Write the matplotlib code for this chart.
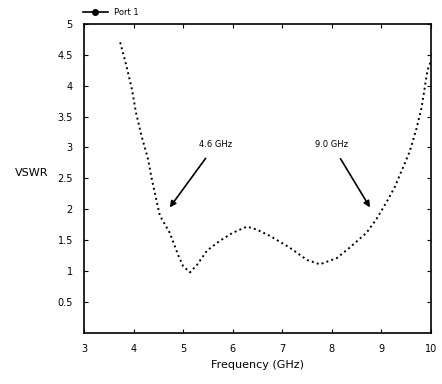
import matplotlib.pyplot as plt

# 판독한 VSWR 곡선 값
freq = [3.73, 3.85, 3.97, 4.05, 4.17, 4.29, 4.37, 4.53, 4.73, 4.90, 5.00, 5.14,
        5.28, 5.48, 5.74, 6.00, 6.29, 6.49, 6.75, 7.15, 7.50, 7.76, 8.10, 8.36,
        8.70, 8.90, 9.10, 9.27, 9.57, 9.71, 9.81, 9.93, 10.0]
vswr = [4.70, 4.34, 3.93, 3.56, 3.16, 2.82, 2.48, 1.90, 1.62, 1.26, 1.08, 0.98,
        1.10, 1.33, 1.49, 1.62, 1.72, 1.67, 1.57, 1.38, 1.18, 1.11, 1.21, 1.38,
        1.62, 1.84, 2.11, 2.36, 2.93, 3.31, 3.64, 4.25, 4.40]

x_ticks = [3, 4, 5, 6, 7, 8, 9, 10]
y_ticks = [0.5, 1, 1.5, 2, 2.5, 3, 3.5, 4, 4.5, 5]

fig = plt.figure(figsize=(4.42, 3.84), dpi=100)
ax = fig.add_axes([0.19, 0.133, 0.785, 0.805])

line, = ax.plot(freq, vswr, color="black", linestyle=":", linewidth=1.4)

ax.set_xlim(3, 10)
ax.set_ylim(0, 5)
ax.set_xticks(x_ticks)
ax.set_yticks(y_ticks)
ax.set_yticklabels([f"{v:g}" for v in y_ticks])
ax.tick_params(direction="in", top=True, right=True, labelsize=7, length=3, pad=8)
for s in ax.spines.values():
    s.set_linewidth(1.2)

ax.set_xlabel("Frequency (GHz)", fontsize=8)
ax.set_ylabel("VSWR", fontsize=8, rotation=0, labelpad=0)
ax.yaxis.set_label_coords(-0.15, 0.5)

# 화살표 주석
ax.annotate("4.6 GHz", xy=(4.73, 2.03), xytext=(5.66, 3.05), fontsize=6,
            ha="center", va="center",
            arrowprops=dict(arrowstyle="-|>", color="black", lw=1.2,
                            shrinkA=6, shrinkB=0, mutation_scale=9))
ax.annotate("9.0 GHz", xy=(8.77, 2.03), xytext=(8.0, 3.05), fontsize=6,
            ha="center", va="center",
            arrowprops=dict(arrowstyle="-|>", color="black", lw=1.2,
                            shrinkA=6, shrinkB=0, mutation_scale=9))

# 범례 (축 위 왼쪽)
fig.legend([plt.Line2D([], [], color="black", marker="o", markersize=4, lw=1.2)],
           ["Port 1"], loc="upper left", bbox_to_anchor=(0.17, 1.0),
           frameon=False, fontsize=6, handlelength=3)

fig.savefig("out.png", dpi=100)
